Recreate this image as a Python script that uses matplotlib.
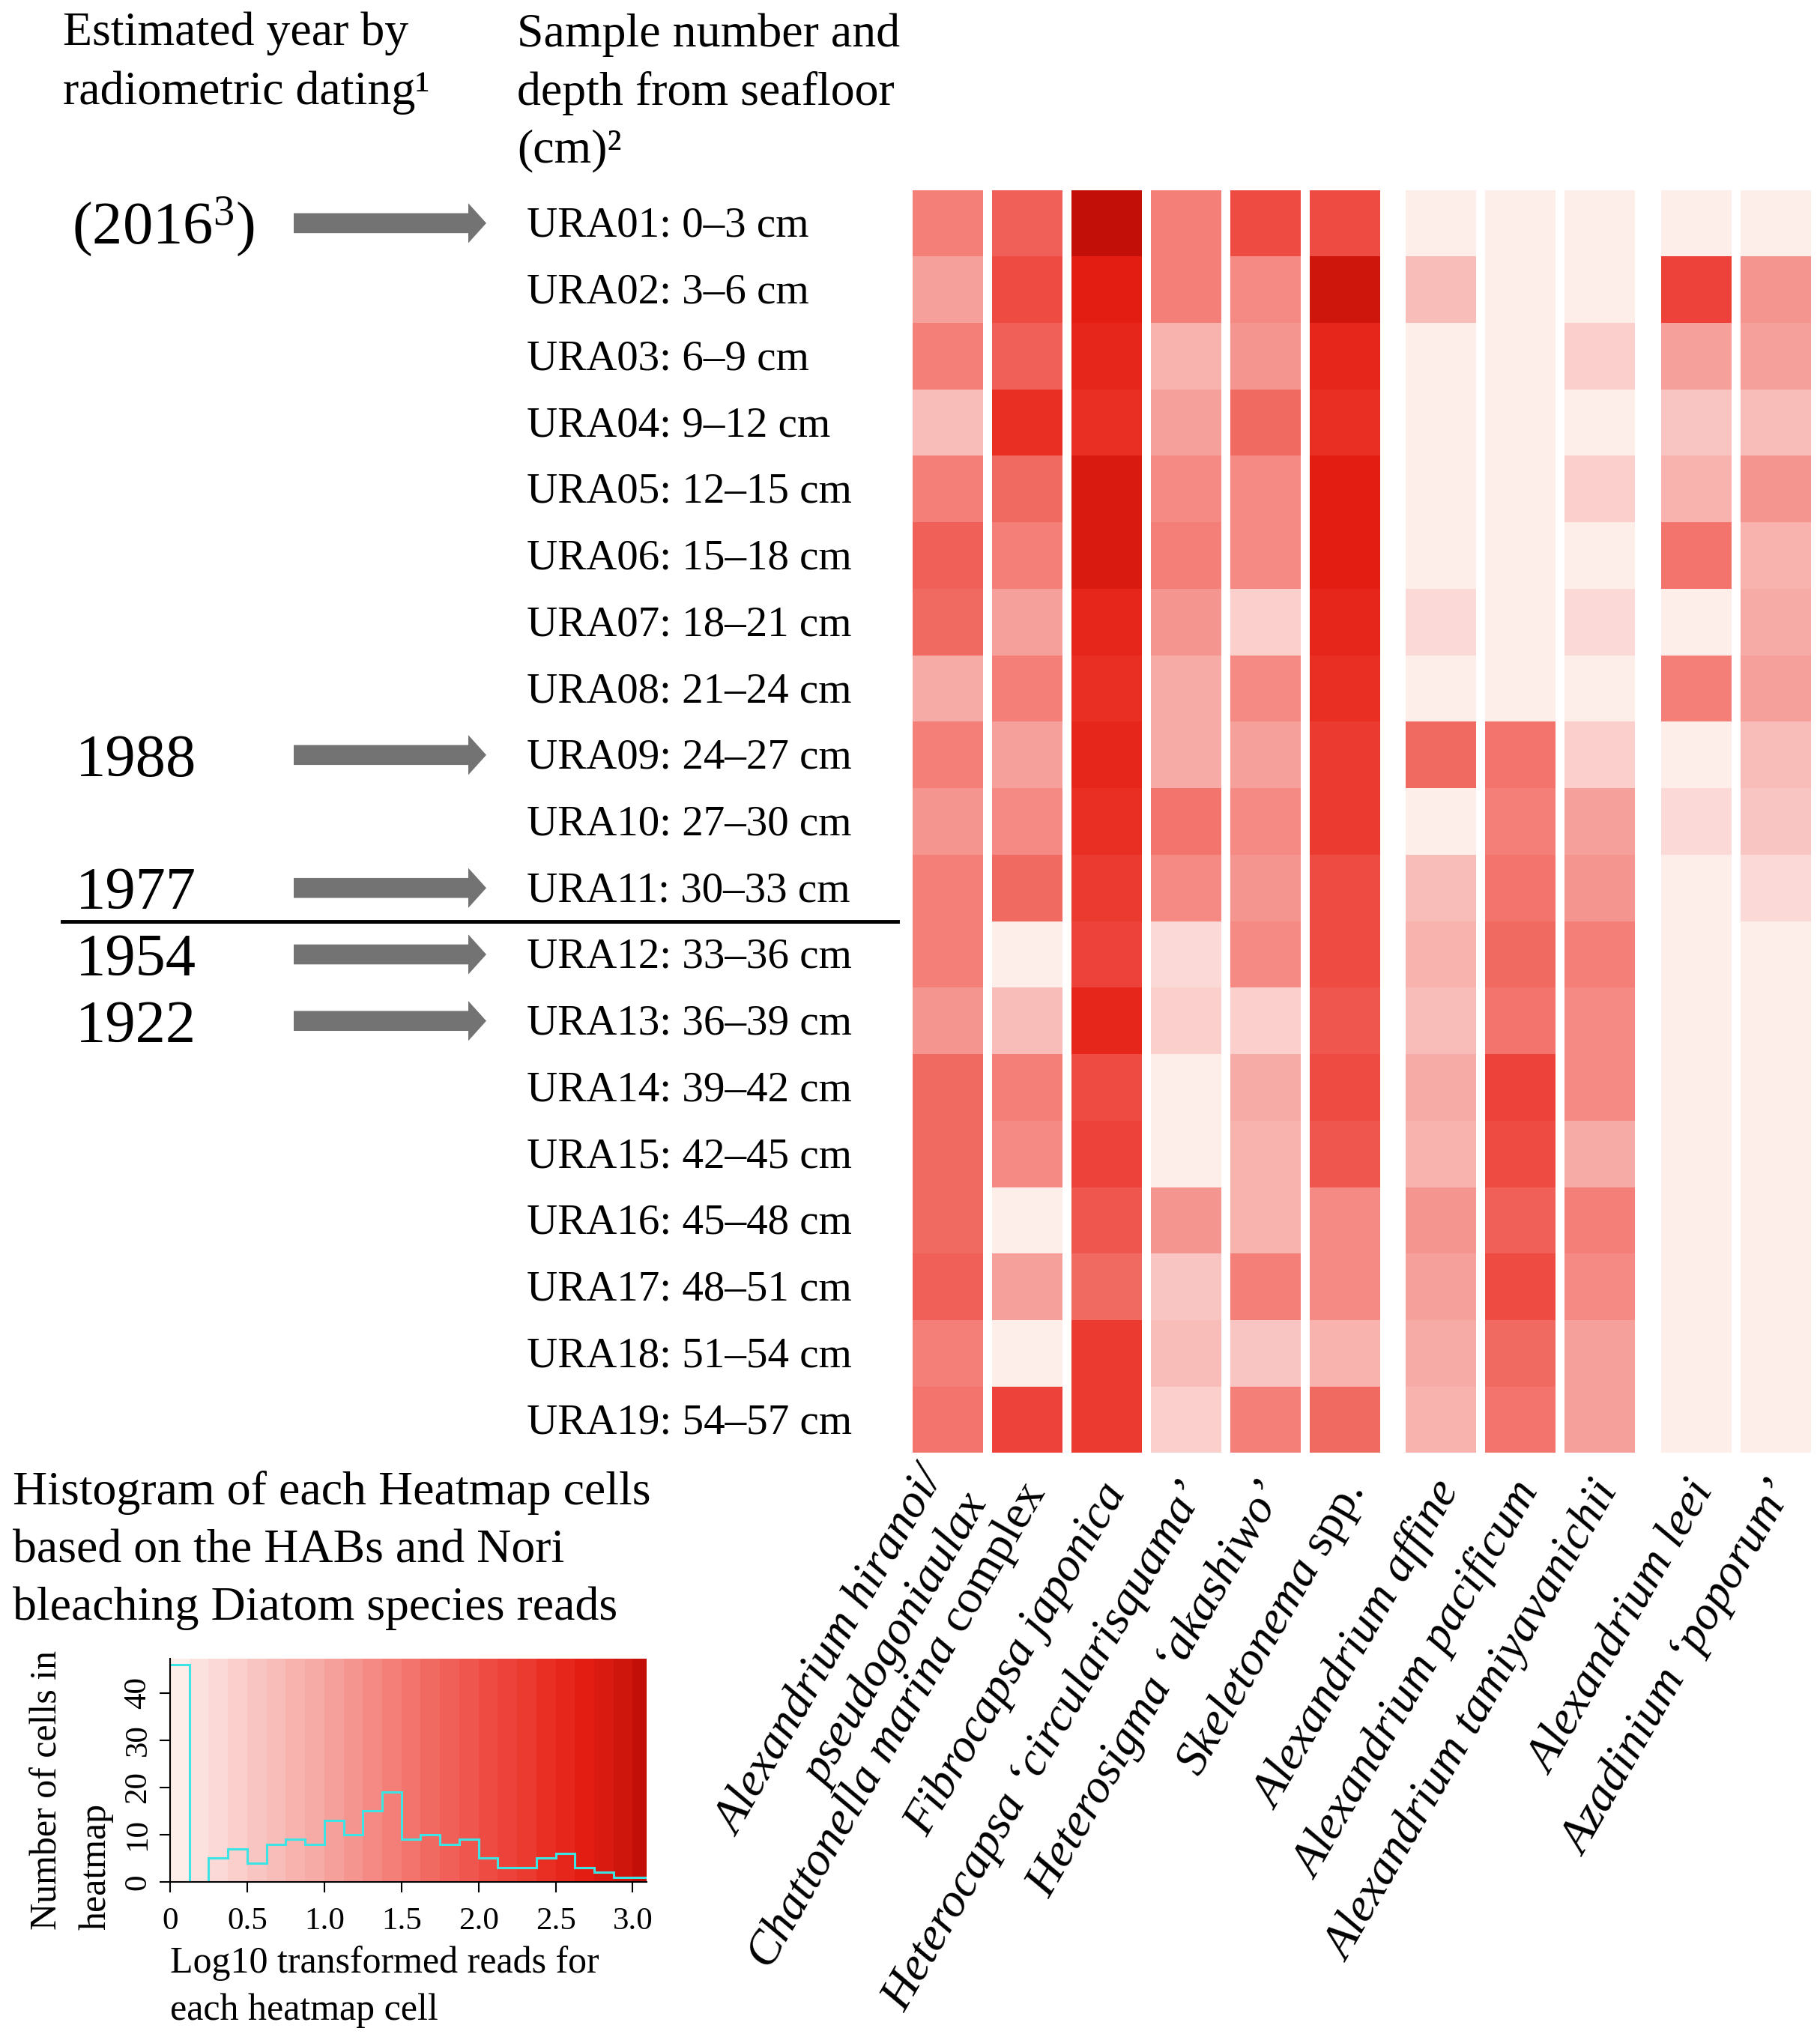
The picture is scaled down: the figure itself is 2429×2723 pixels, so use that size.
import numpy as np
import matplotlib
matplotlib.use("Agg")
import matplotlib.pyplot as plt
import matplotlib.transforms as mtransforms
from matplotlib.colors import ListedColormap, BoundaryNorm
from matplotlib.patches import Polygon
from matplotlib.lines import Line2D

plt.rcParams["font.family"] = ["Liberation Serif", "DejaVu Serif"]
plt.rcParams["mathtext.fontset"] = "custom"
plt.rcParams["mathtext.rm"] = "Liberation Serif"
plt.rcParams["mathtext.it"] = "Liberation Serif:italic"

# ---------------- data ----------------
samples = ["URA01: 0–3 cm", "URA02: 3–6 cm", "URA03: 6–9 cm", "URA04: 9–12 cm",
           "URA05: 12–15 cm", "URA06: 15–18 cm", "URA07: 18–21 cm", "URA08: 21–24 cm",
           "URA09: 24–27 cm", "URA10: 27–30 cm", "URA11: 30–33 cm", "URA12: 33–36 cm",
           "URA13: 36–39 cm", "URA14: 39–42 cm", "URA15: 42–45 cm", "URA16: 45–48 cm",
           "URA17: 48–51 cm", "URA18: 51–54 cm", "URA19: 54–57 cm"]

species = ["Alexandrium hiranoi/\npseudogoniaulax",
           r"$\mathit{Chattonella\ marina}$ complex",
           "Fibrocapsa japonica",
           "Heterocapsa ‘circularisquama’",
           "Heterosigma ‘akashiwo’",
           r"$\mathit{Skeletonema}$ spp.",
           "Alexandrium affine",
           "Alexandrium pacificum",
           "Alexandrium tamiyavanichii",
           "Alexandrium leei",
           "Azadinium ‘poporum’"]
species_italic = [True, False, True, True, True, False, True, True, True, True, True]
species_groups = [6, 3, 2]

# log10 transformed reads per heatmap cell (rows = samples URA01..URA19)
a_hiranoi = [1.44, 1.06, 1.44, 0.69, 1.44, 1.81, 1.69, 0.94, 1.44, 1.19, 1.44, 1.44, 1.19, 1.69, 1.69, 1.69, 1.81, 1.44, 1.56]
c_marina = [1.81, 2.06, 1.81, 2.44, 1.69, 1.44, 1.06, 1.44, 1.06, 1.31, 1.69, 0.00, 0.69, 1.44, 1.31, 0.00, 1.06, 0.00, 2.19]
f_japonica = [3.06, 2.69, 2.56, 2.44, 2.81, 2.81, 2.56, 2.44, 2.56, 2.44, 2.31, 2.19, 2.56, 2.06, 2.19, 1.94, 1.69, 2.31, 2.31]
h_circularisquama = [1.44, 1.44, 0.81, 1.06, 1.31, 1.44, 1.19, 0.94, 0.94, 1.56, 1.31, 0.31, 0.44, 0.00, 0.00, 1.19, 0.56, 0.69, 0.44]
h_akashiwo = [2.06, 1.31, 1.19, 1.69, 1.31, 1.31, 0.44, 1.31, 1.06, 1.31, 1.19, 1.31, 0.44, 0.94, 0.81, 0.81, 1.44, 0.56, 1.44]
skeletonema = [2.06, 2.94, 2.56, 2.44, 2.69, 2.69, 2.56, 2.44, 2.31, 2.31, 2.06, 2.06, 1.94, 2.06, 1.94, 1.31, 1.31, 0.81, 1.69]
a_affine = [0.00, 0.69, 0.00, 0.00, 0.00, 0.00, 0.31, 0.00, 1.69, 0.00, 0.69, 0.81, 0.69, 0.94, 0.81, 1.19, 1.06, 0.94, 0.81]
a_pacificum = [0.00, 0.00, 0.00, 0.00, 0.00, 0.00, 0.00, 0.00, 1.56, 1.44, 1.56, 1.69, 1.56, 2.19, 2.06, 1.81, 2.06, 1.69, 1.56]
a_tamiyavanichii = [0.00, 0.00, 0.44, 0.00, 0.44, 0.00, 0.31, 0.00, 0.44, 1.06, 1.19, 1.44, 1.31, 1.31, 0.94, 1.44, 1.31, 1.06, 1.06]
a_leei = [0.00, 2.19, 1.06, 0.56, 0.81, 1.56, 0.00, 1.44, 0.00, 0.31, 0.00, 0.00, 0.00, 0.00, 0.00, 0.00, 0.00, 0.00, 0.00]
a_poporum = [0.00, 1.19, 1.06, 0.69, 1.19, 0.81, 0.94, 1.06, 0.69, 0.56, 0.31, 0.00, 0.00, 0.00, 0.00, 0.00, 0.00, 0.00, 0.00]

columns = [a_hiranoi, c_marina, f_japonica, h_circularisquama, h_akashiwo, skeletonema,
           a_affine, a_pacificum, a_tamiyavanichii, a_leei, a_poporum]

dating_labels = [r"(2016$^{3}$)", "1988", "1977", "1954", "1922"]
dating_samples = [0, 8, 10, 11, 12]          # sample index each estimated year points to
divider_after_sample = 10                   # line drawn below URA11

# colour-key histogram (counts per 0.125 bin of log10 reads)
hist_bin = 0.125
hist_counts = [46, 0, 5, 7, 4, 8, 9, 8, 13, 10, 15, 19, 9, 10, 8, 9, 5, 3, 3, 5, 6, 3, 2, 1, 1]
hist_xticks = [0, 0.5, 1.0, 1.5, 2.0, 2.5, 3.0]
hist_xticklabels = ["0", "0.5", "1.0", "1.5", "2.0", "2.5", "3.0"]
hist_yticks = [0, 10, 20, 30, 40]

key_colors = ["#FDEEEA", "#FCE2DE", "#FBD9D6", "#FACFCC", "#F9C5C2", "#F8BDB9", "#F8B3AE",
              "#F7ABA6", "#F6A09B", "#F59590", "#F58A85", "#F47F78", "#F2746D", "#F16A62",
              "#F06058", "#EF564E", "#EE4C43", "#EC4239", "#EB3A2F", "#E92F24", "#E6261A",
              "#E41D12", "#D91A10", "#CE160C", "#C21009"]

# ---------------- figure ----------------
W, H = 2429, 2723
fig = plt.figure(figsize=(W / 100, H / 100), dpi=100)


def fx(px):
    return px / W


def fy(py):
    return 1 - py / H


edges = np.arange(len(hist_counts) + 1) * hist_bin
cmap = ListedColormap(key_colors)
norm = BoundaryNorm(edges, len(key_colors))

# column positions with gaps between species groups
GAP = 0.21
xpos = []
start = 0.0
for g in species_groups:
    xpos.extend(start + np.arange(g))
    start = xpos[-1] + 1 + GAP
xpos = np.array(xpos)

PITCH = 106.0
X0C = 1265.0
HM_TOP, HM_BOT = 253.5, 1939.5
left_px = X0C - 0.5 * PITCH
width_px = (xpos[-1] + 1) * PITCH
ax = fig.add_axes([fx(left_px), fy(HM_BOT), width_px / W, (HM_BOT - HM_TOP) / H])
n = len(samples)
for j, col in enumerate(columns):
    vals = np.asarray(col)
    ax.bar(np.full(n, xpos[j]), np.ones(n), bottom=np.arange(n), width=0.887,
           color=cmap(norm(vals)), linewidth=0, antialiased=False)
ax.set_xlim(-0.5, xpos[-1] + 0.5)
ax.set_ylim(n, 0)
ax.axis("off")

# species labels
for j, lab in enumerate(species):
    ax.text(xpos[j] + 0.12, n + 0.5, lab, rotation=60, rotation_mode="anchor",
            ha="right", va="center", multialignment="right", fontsize=46,
            style="italic" if species_italic[j] else "normal", clip_on=False)

# row labels, years, arrows, divider
trans = mtransforms.blended_transform_factory(fig.transFigure, ax.transData)
row_trans = mtransforms.offset_copy(trans, fig=fig, x=0, y=-18, units="dots")
for i, s in enumerate(samples):
    fig.text(fx(703), i + 0.5, s, transform=row_trans, fontsize=41, va="baseline", ha="left")

year_trans = mtransforms.offset_copy(trans, fig=fig, x=0, y=-28, units="dots")
for lab, r in zip(dating_labels, dating_samples):
    xl = 96 if lab.startswith("(") else 101
    fig.text(fx(xl), r + 0.5, lab, transform=year_trans, fontsize=58, va="baseline", ha="left")
    yc = r + 0.5
    s, h = 0.15, 0.3
    x0, x1, x2 = fx(392), fx(625), fx(649)
    verts = [(x0, yc - s), (x1, yc - s), (x1, yc - h), (x2, yc), (x1, yc + h), (x1, yc + s), (x0, yc + s)]
    fig.add_artist(Polygon(verts, closed=True, transform=trans, facecolor="#737373",
                           edgecolor="none"))

fig.add_artist(Line2D([fx(83), fx(1198)], [divider_after_sample + 1, divider_after_sample + 1],
                      transform=trans, color="black", lw=3.5))

# headers
fig.text(fx(84), fy(60), "Estimated year by", fontsize=46, va="baseline")
fig.text(fx(84), fy(139), "radiometric dating¹", fontsize=46, va="baseline")
fig.text(fx(690), fy(62), "Sample number and", fontsize=46, va="baseline")
fig.text(fx(690), fy(140), "depth from seafloor", fontsize=46, va="baseline")
fig.text(fx(690), fy(216), "(cm)²", fontsize=46, va="baseline")

# histogram title
fig.text(fx(17), fy(2008), "Histogram of each Heatmap cells", fontsize=46, va="baseline")
fig.text(fx(17), fy(2085), "based on the HABs and Nori", fontsize=46, va="baseline")
fig.text(fx(17), fy(2162), "bleaching Diatom species reads", fontsize=46, va="baseline")

# ---------------- colour key histogram ----------------
HX_L, HX_R, HX_T, HX_B = 227, 863, 2214, 2512
hx = fig.add_axes([fx(HX_L), fy(HX_B), (HX_R - HX_L) / W, (HX_B - HX_T) / H])
for k in range(len(key_colors)):
    hx.axvspan(edges[k], edges[k + 1], color=key_colors[k], lw=0)
hx.stairs(hist_counts, edges, baseline=None, color="#3EE3E3", lw=2.2)
hx.set_xlim(0, 3.09)
hx.set_ylim(0, 47.3)
for sp in ["top", "right"]:
    hx.spines[sp].set_visible(False)
for sp in ["left", "bottom"]:
    hx.spines[sp].set_linewidth(1.5)
hx.set_xticks(hist_xticks)
hx.set_xticklabels(hist_xticklabels)
hx.set_yticks(hist_yticks)
hx.tick_params(axis="both", direction="out", length=10, width=1.5, labelsize=31)
hx.tick_params(axis="x", pad=14)
hx.tick_params(axis="y", pad=7)
for t in hx.get_yticklabels():
    t.set_rotation(90)
    t.set_va("center")

fig.text(fx(63), fy(2576), "Number of cells in", rotation=90, fontsize=36, ha="center", va="bottom")
fig.text(fx(128), fy(2576), "heatmap", rotation=90, fontsize=36, ha="center", va="bottom")
fig.text(fx(227), fy(2633), "Log10 transformed reads for", fontsize=36, va="baseline")
fig.text(fx(227), fy(2696), "each heatmap cell", fontsize=36, va="baseline")

fig.savefig("out.png", dpi=100, facecolor="white")
